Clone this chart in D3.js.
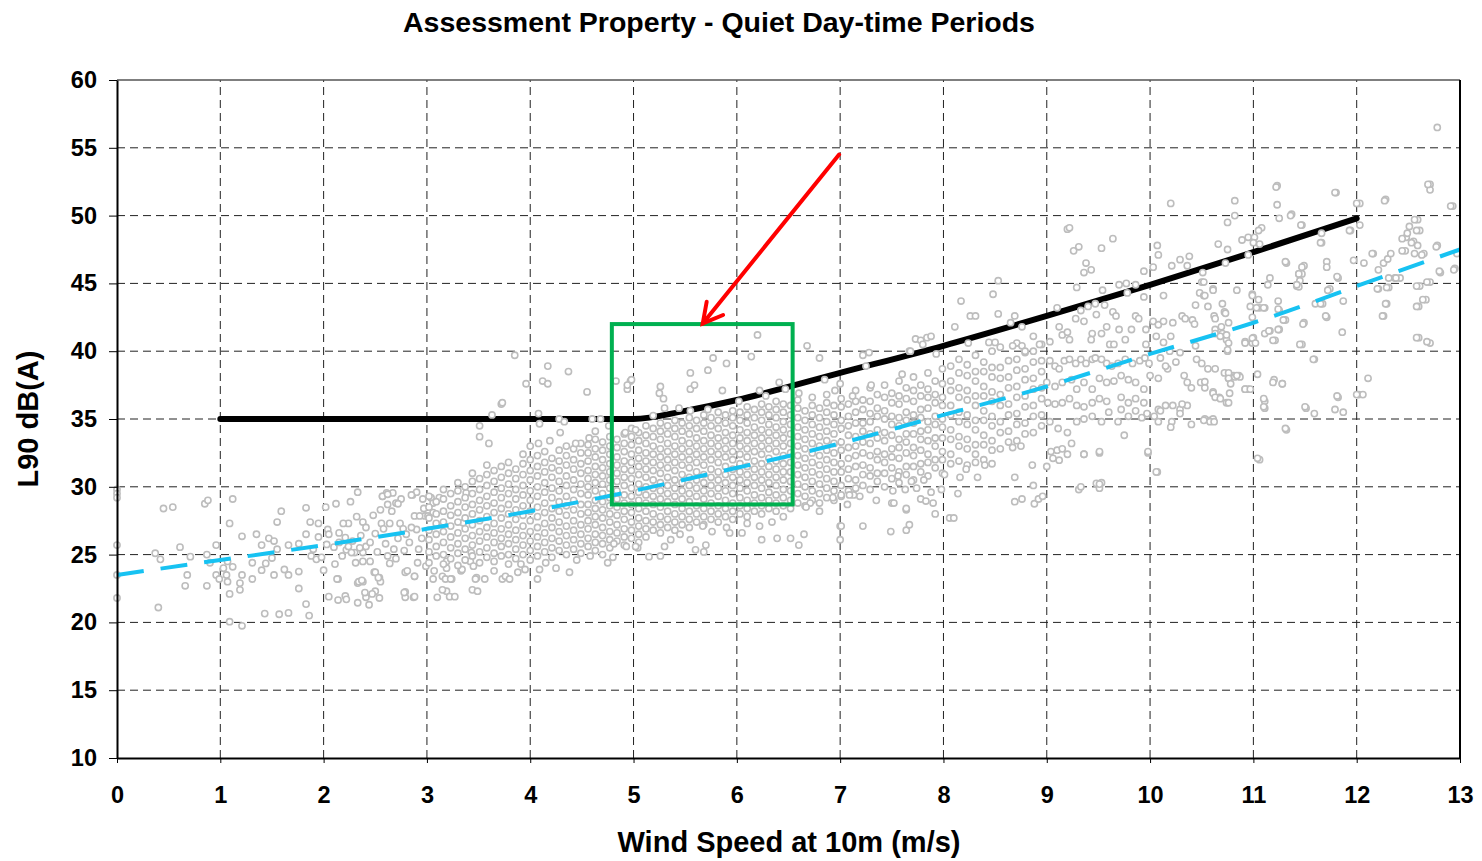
<!DOCTYPE html>
<html>
<head>
<meta charset="utf-8">
<script src="https://cdn.jsdelivr.net/npm/d3@7"></script>
<style>
  body { margin: 0; background: #fff; }
  text { font-family: "Liberation Sans", Arial, sans-serif; font-weight: bold; fill: #000; }
</style>
</head>
<body>
<div id="chart"></div>
<script>
const WIDTH = 1482
const HEIGHT = 861
const margin = { top: 80, right: 22, bottom: 103, left: 117 }

const chartTitle = 'Assessment Property - Quiet Day-time Periods'
const xTitle = 'Wind Speed at 10m (m/s)'
const yTitle = 'L90 dB(A)'

const speedTicks = [0, 1, 2, 3, 4, 5, 6, 7, 8, 9, 10, 11, 12, 13]
const levelTicks = [10, 15, 20, 25, 30, 35, 40, 45, 50, 55, 60]

// Noise limit curve (black)
const limitSpeeds = [1, 2, 3, 4, 5, 5.5, 6, 7, 8, 9, 10, 11, 12]
const limitLevels = [35, 35, 35, 35, 35, 35.6, 36.4, 38.4, 40.4, 42.6, 44.9, 47.3, 49.8]

// Background regression curve (cyan dashed)
const fitSpeeds = [0, 1, 2, 3, 4, 5, 6, 7, 8, 9, 10, 11, 12, 13]
const fitLevels = [23.5, 24.6, 25.7, 26.9, 28.2, 29.7, 31.4, 33.2, 35.3, 37.4, 39.8, 42.1, 44.8, 47.5]

// Highlight box [x0, x1, y0, y1] and arrow [from, to], in data units
const boxExtent = [4.79, 6.54, 28.7, 42.0]
const arrowFrom = [6.99, 54.5]
const arrowTo = [5.67, 42.05]

// Measured L90 points, low wind speeds
const calmPoints = [
  [0,29.8],[0,29.5],[0,29.2],[0,25.7],[0,23.5],[0,21.8],
  [0.37,25.1],[0.42,24.65],[0.40,21.1],[0.45,28.4],[0.54,28.5],[0.61,25.55],[0.66,22.7],[0.68,23.5],
  [0.71,24.85],[0.85,28.75],[0.88,29.0],[0.87,25.0],[0.87,22.7],[0.9,24.4],[0.96,25.7],[0.96,23.5],[0.99,23.2],
  [1.03,24.0],[1.07,24.5],[1.06,23.5],[1.07,23.0],[1.09,22.1],[1.09,20.05],[1.21,19.75],[1.09,27.3],[1.12,29.1],
  [1.12,24.1],[1.19,22.9],[1.19,22.4],[1.21,23.5],[1.21,26.35],[1.31,23.2],[1.31,24.4],[1.35,26.5],[1.40,25.7],
  [1.40,23.85],[1.44,24.35],[1.43,20.65],[1.57,20.6],[1.66,20.7],[1.47,26.2],[1.5,24.75],[1.52,26.0],[1.55,27.4],
  [1.59,28.2],[1.55,25.4],[1.52,23.5],[1.62,23.9],[1.66,23.5],[1.66,25.7],
  [1.76,22.5],[1.83,21.35],[1.86,20.5],[1.76,23.75],[1.76,25.8],[1.83,26.5],[1.83,28.45],[1.87,27.4],[1.95,27.3],
  [1.9,25.4],[1.88,24.9],[1.93,24.65],[1.95,26.3],[1.98,24.8],[2.0,23.85],[2.02,28.5],[2.03,25.75],[2.04,26.85],[2.05,26.5],
  [2.05,21.9],[2.14,21.65],[2.21,21.95],[2.22,21.7],[2.33,21.45],[2.41,21.85],[2.44,21.3],[2.5,22.3],[2.54,21.8],
  [2.79,22.25],[2.79,21.85],[2.87,21.85],[3.1,21.85],[3.19,22.3],[3.22,21.9],[3.27,21.9],[3.44,22.4],[3.49,22.3],
  [2.14,23.2],[2.38,23.0],[2.33,22.9],[2.49,23.7],[2.54,23.3],[2.55,23.0],[2.45,24.5],[2.38,24.5],[2.31,24.4],
  [2.32,27.8],[2.38,27.4],[2.41,27.0],[2.26,28.9],[2.33,29.6],[2.12,28.75],[2.24,27.3],[2.21,26.25],[2.19,27.3],
  [2.15,26.6],[2.22,25.35],[2.3,25.15],[2.11,24.3],[2.1,25.55],[2.24,25.6],[2.27,25.15],[2.41,25.6],[2.38,25.15],
  [2.36,26.4],[2.5,26.55],[2.56,27.3],[2.58,26.9],[2.64,27.3],[2.57,29.3],[2.61,29.55],[2.67,29.55],[2.62,28.7],
  [2.7,28.8],[2.64,24.35],[2.74,27.3],[2.77,26.9],[2.86,29.4],[2.78,25.3],[2.83,25.9],[2.9,26.85],[2.96,29.1],
  [2.98,27.85],[3.04,29.2],[3.06,28.8],[3.12,29.2],[3.06,28.1],[3.01,27.85],[2.88,27.85],[2.93,27.85],[2.79,23.7],
  [2.88,23.4],[2.91,24.4],[2.99,24.15],[3.06,23.2],[3.07,23.8],[3.15,23.4],[3.19,24.5],[3.19,24.0],[3.24,23.2],
  [3.33,23.8],[3.42,24.5],[3.45,24.15],[3.48,23.3],[3.43,25.15],[3.35,27.35],[3.38,29.55],
  [2.15,25.9],[2.28,26.0],[2.45,25.9],[2.52,25.2],[2.6,25.8],[2.68,25.4],[2.72,26.2],[2.8,26.5],[2.85,27.0],
  [2.95,26.2],[2.62,24.9],[2.7,24.7],[2.48,27.9],[2.18,24.9],[2.35,25.5],[2.92,25.4],[2.97,28.4],[2.55,28.3],
  [2.66,28.2],[2.75,29.1],[2.9,29.6],[2.13,23.2],[2.34,23.0],[2.37,23.1],[2.5,23.7],[2.53,23.3],[2.4,22.2],
  [2.47,22.1],[2.78,22.2],[2.88,21.9],[2.81,23.8],[2.88,23.4],[3.18,23.2],[3.15,22.4],[3.23,23.2],[3.34,23.9],
  [3.47,23.2],[2.57,29.3],[2.72,28.75],[2.85,29.4],[2.62,29.45]
]

// Main cloud, one column per wind speed: [speed, level, level, ...]
const denseColumns = [
  [3.02,24.4,25.2,26.1,26.8,27.7,28.5,29.3],
  [3.09,24.9,25.6,26.5,27.3,28.0,28.9],
  [3.16,24.3,25.0,25.9,26.7,27.4,28.2,29.1,29.8],
  [3.23,24.7,25.5,26.3,27.1,27.9,28.6,29.5],
  [3.30,24.2,25.1,25.8,26.6,27.4,28.1,28.9,29.7,30.3],
  [3.37,24.6,25.4,26.2,26.9,27.7,28.5,29.2,30.0],
  [3.44,24.9,25.7,26.4,27.2,28.0,28.7,29.5,30.4,31.0],
  [3.51,24.4,25.2,26.0,26.7,27.5,28.3,29.0,29.8,30.6],
  [3.58,24.8,25.5,26.3,27.0,27.8,28.6,29.3,30.1,30.9,31.6],
  [3.65,24.5,25.1,25.9,26.6,27.3,28.1,28.8,29.6,30.4,31.2],
  [3.72,24.9,25.6,26.2,26.9,27.7,28.4,29.2,29.9,30.7,31.5],
  [3.79,24.3,25.0,25.8,26.5,27.2,28.0,28.7,29.5,30.2,31.0,31.8],
  [3.86,24.7,25.4,26.1,26.8,27.6,28.3,29.1,29.8,30.6,31.3],
  [3.93,25.0,25.7,26.4,27.1,27.9,28.6,29.4,30.1,30.9,31.7,32.4],
  [4.00,24.6,25.3,26.0,26.7,27.5,28.2,29.0,29.7,30.5,31.2,32.0],
  [4.07,24.9,25.6,26.3,27.0,27.8,28.5,29.3,30.0,30.8,31.5,32.3],
  [4.14,25.2,25.9,26.6,27.3,28.1,28.8,29.6,30.3,31.1,31.8,32.6],
  [4.21,24.8,25.5,26.2,27.0,27.7,28.4,29.2,29.9,30.7,31.4,32.1],
  [4.28,25.3,26.0,26.7,27.4,28.2,28.9,29.7,30.4,31.2,31.9,32.7],
  [4.35,25.0,25.7,26.4,27.1,27.9,28.6,29.3,30.1,30.8,31.6,32.3,33.0],
  [4.42,25.4,26.1,26.8,27.5,28.3,29.0,29.8,30.5,31.3,32.0,32.8],
  [4.49,25.1,25.8,26.5,27.2,28.0,28.7,29.5,30.2,31.0,31.7,32.5,33.2],
  [4.56,25.6,26.2,26.9,27.5,28.1,28.7,29.4,30.0,30.6,31.2,31.9,32.5,33.1],
  [4.63,25.3,25.9,26.5,27.2,27.8,28.4,29.0,29.7,30.3,30.9,31.5,32.2,32.8,33.5],
  [4.70,25.8,26.4,27.0,27.7,28.3,28.9,29.5,30.2,30.8,31.4,32.0,32.7,33.3],
  [4.77,25.5,26.1,26.7,27.4,28.0,28.6,29.2,29.9,30.5,31.1,31.7,32.4,33.0,33.7],
  [4.84,26.0,26.6,27.2,27.9,28.5,29.1,29.7,30.4,31.0,31.6,32.2,32.9,33.5],
  [4.91,25.7,26.3,26.9,27.6,28.2,28.8,29.4,30.1,30.7,31.3,31.9,32.6,33.2,33.9],
  [4.98,26.2,26.8,27.4,28.1,28.7,29.3,29.9,30.6,31.2,31.8,32.4,33.1,33.7,34.3],
  [5.05,26.5,27.1,27.7,28.4,29.0,29.6,30.2,30.9,31.5,32.1,32.7,33.4,34.0],
  [5.12,26.3,26.9,27.5,28.2,28.8,29.4,30.0,30.7,31.3,31.9,32.5,33.2,33.8,34.5],
  [5.19,26.8,27.4,28.0,28.7,29.3,29.9,30.5,31.2,31.8,32.4,33.0,33.7,34.3],
  [5.26,26.6,27.2,27.8,28.5,29.1,29.7,30.3,31.0,31.6,32.2,32.8,33.5,34.1,34.7],
  [5.33,27.0,27.6,28.2,28.9,29.5,30.1,30.7,31.4,32.0,32.6,33.2,33.9,34.5],
  [5.40,26.8,27.4,28.0,28.7,29.3,29.9,30.5,31.2,31.8,32.4,33.0,33.7,34.3,34.9],
  [5.47,27.2,27.8,28.4,29.1,29.7,30.3,30.9,31.6,32.2,32.8,33.4,34.1,34.7],
  [5.54,27.0,27.6,28.2,28.9,29.5,30.1,30.7,31.4,32.0,32.6,33.2,33.9,34.5,35.1],
  [5.61,27.4,28.0,28.6,29.3,29.9,30.5,31.1,31.8,32.4,33.0,33.6,34.3,34.9],
  [5.68,27.2,27.8,28.4,29.1,29.7,30.3,30.9,31.6,32.2,32.8,33.4,34.1,34.7,35.3],
  [5.75,27.6,28.2,28.8,29.5,30.1,30.7,31.3,32.0,32.6,33.2,33.8,34.5,35.1],
  [5.82,27.4,28.0,28.6,29.3,29.9,30.5,31.1,31.8,32.4,33.0,33.6,34.3,34.9,35.5],
  [5.89,27.8,28.4,29.0,29.7,30.3,30.9,31.5,32.2,32.8,33.4,34.0,34.7,35.3],
  [5.96,27.6,28.2,28.8,29.5,30.1,30.7,31.3,32.0,32.6,33.2,33.8,34.5,35.1,35.6],
  [6.03,28.0,28.6,29.2,29.9,30.5,31.1,31.7,32.4,33.0,33.6,34.2,34.9,35.5],
  [6.10,27.8,28.4,29.0,29.7,30.3,30.9,31.5,32.2,32.8,33.4,34.0,34.7,35.3,35.9],
  [6.17,28.2,28.8,29.4,30.1,30.7,31.3,31.9,32.6,33.2,33.8,34.4,35.1,35.7],
  [6.24,28.0,28.6,29.2,29.9,30.5,31.1,31.7,32.4,33.0,33.6,34.2,34.9,35.5,36.1],
  [6.31,28.4,29.0,29.6,30.3,30.9,31.5,32.1,32.8,33.4,34.0,34.6,35.3,35.9],
  [6.38,28.2,28.8,29.4,30.1,30.7,31.3,31.9,32.6,33.2,33.8,34.4,35.1,35.7,36.3],
  [6.45,28.6,29.2,29.8,30.5,31.1,31.7,32.3,33.0,33.6,34.2,34.8,35.5,36.1],
  [6.52,28.4,29.0,29.7,30.4,31.1,31.8,32.5,33.2,33.9,34.6,35.3,36.0],
  [6.59,28.8,29.5,30.2,30.9,31.6,32.3,33.0,33.7,34.4,35.1,35.8,36.4],
  [6.66,28.6,29.3,30.0,30.7,31.4,32.1,32.8,33.5,34.2,34.9,35.6],
  [6.73,29.0,29.7,30.4,31.1,31.8,32.5,33.2,33.9,34.6,35.3,36.0,36.6],
  [6.80,28.8,29.5,30.2,30.9,31.6,32.3,33.0,33.7,34.4,35.1,35.8],
  [6.87,29.2,29.9,30.6,31.3,32.0,32.7,33.4,34.1,34.8,35.5,36.2,36.8],
  [6.94,29.0,29.7,30.4,31.1,31.8,32.5,33.2,33.9,34.6,35.3,36.0],
  [7.01,29.3,30.1,31.1,31.7,32.7,33.3,34.3,34.9,35.9,36.5],
  [7.08,29.7,30.6,31.3,32.1,32.9,33.8,34.5,35.2,36.1],
  [7.15,29.9,30.5,31.5,32.3,33.0,33.7,34.7,35.5,36.3,37.1],
  [7.22,30.1,30.9,31.6,32.5,33.3,34.1,34.7,35.7,36.4],
  [7.29,29.8,30.8,31.4,32.3,33.2,33.9,34.8,35.4,36.3,37.3],
  [7.36,30.4,31.0,32.0,32.6,33.6,34.2,35.2,35.8,36.8],
  [7.43,30.0,31.0,31.8,32.4,33.4,34.0,35.0,35.6,36.6,37.5],
  [7.50,30.6,31.4,32.2,32.8,33.8,34.6,35.2,36.2,36.9],
  [7.57,30.3,31.1,32.1,32.9,33.5,34.5,35.1,36.1,36.7,37.8],
  [7.64,30.9,31.5,32.5,33.3,33.9,34.9,35.5,36.5,37.3],
  [7.71,30.5,31.5,32.3,32.9,33.9,34.7,35.3,36.3,37.1,38.1],
  [7.78,31.1,31.7,32.7,33.5,34.1,35.1,35.7,36.7,37.5],
  [7.85,30.8,31.8,32.4,33.4,34.2,34.8,35.8,36.6,37.2,38.4],
  [7.92,31.4,32.0,33.0,33.6,34.6,35.2,36.2,36.8,37.8],
  [7.99,31.0,32.0,32.6,33.6,34.4,35.0,36.0,36.6,37.6,38.7],
  [8.07,31.7,32.4,33.5,34.2,35.3,36.0,37.1,37.8,38.9],
  [8.15,31.9,33.0,33.7,34.8,35.5,36.6,37.3,38.4,39.4],
  [8.23,31.6,32.8,33.5,34.6,35.3,36.4,37.1,38.2,39.0],
  [8.31,32.4,33.1,34.2,34.9,36.0,36.7,37.8,38.5,39.7],
  [8.39,32.0,33.1,33.8,34.9,35.6,36.7,37.4,38.5,39.2],
  [8.47,32.7,33.4,34.5,35.2,36.3,37.0,38.1,38.8,40.0],
  [8.55,32.8,34.0,34.8,36.0,36.8,38.0,38.8,40.3],
  [8.63,33.3,34.1,35.3,36.1,37.3,38.1,39.3],
  [8.71,33.4,34.6,35.4,36.6,37.4,38.6,39.4,40.6],
  [8.79,33.9,34.7,35.9,36.7,37.9,38.7,39.9],
  [8.87,34.0,35.2,36.0,37.2,38.0,39.2,40.0,41.1],
  [8.95,34.5,35.3,36.5,37.3,38.5,39.3,40.5]
]

// Scattered points around the main cloud, 3.5 to 9 m/s
const fringePoints = [
  [3.96,37.6],[4.12,37.8],[4.17,37.6],[4.55,37.0],[4.94,37.2],[4.97,37.8],[3.72,36.1],[3.63,35.3],[4.08,35.4],
  [4.09,34.65],[4.28,35.0],[4.33,34.8],[4.6,35.0],[4.68,35.0],[3.51,34.5],[3.51,33.7],[3.6,33.2],[4.29,34.0],
  [4.63,34.1],[4.76,34.5],[4.92,34.0],[5.02,34.2],[4.19,33.4],[4.44,33.2],[4.57,33.6],[4.0,33.0],[4.08,33.2],
  [3.85,39.7],[4.17,38.9],[4.37,38.5],[3.73,36.2],[4.83,37.8],[4.94,37.5],[4.98,37.9],
  [6.2,41.2],[6.14,39.6],[5.77,39.5],[5.9,39.1],[5.72,38.6],[5.55,38.4],[5.86,37.1],[5.55,37.2],[5.59,37.5],
  [5.26,37.4],[5.25,36.9],[5.29,36.5],[5.3,35.8],[5.44,35.8],[5.55,35.6],[5.72,35.7],[5.19,35.25],[6.22,37.1],
  [6.28,36.7],[6.41,37.7],[6.47,37.2],[6.68,40.4],[6.8,39.5],[7.28,39.9],[7.22,39.7],[7.67,40.0],[6.85,37.9],
  [7.0,37.6],[7.25,38.9],[7.12,36.7],[7.3,37.5],[7.6,38.3],[7.73,40.9],[6.02,36.3],[6.6,36.9],[6.95,37.1],
  [7.35,29.0],[7.5,28.8],[7.64,28.3],[7.64,26.8],[7.22,27.1],[7.0,26.1],[7.0,27.1],[6.65,26.5],[6.6,25.7],
  [6.52,26.2],[6.39,26.2],[6.24,26.1],[6.34,27.4],[6.22,27.1],[6.05,26.6],[5.93,26.6],[5.7,25.7],[5.6,25.35],
  [5.68,25.2],[5.76,26.7],[5.67,27.1],[5.55,26.1],[5.26,24.9],[5.15,24.85],[4.93,25.6],[4.81,25.8],[5.04,25.5],
  [5.36,26.1],[5.3,25.6],[6.1,27.3],[6.45,27.8],[6.8,28.2],[5.9,27.0],[5.45,26.5],[5.05,25.9],[4.7,25.0],
  [3.56,23.2],[3.73,23.2],[3.76,23.4],[3.8,23.2],[3.88,23.7],[3.91,24.3],[4.07,23.2],[4.09,23.9],[4.25,24.0],
  [4.38,23.7],[4.75,24.4],[4.8,24.8],[5.02,25.6],[4.15,24.4],[4.45,24.6],[4.58,24.9],[3.95,23.9],[3.65,23.8],
  [8.69,28.9],[8.76,29.1],[8.88,28.75],[8.92,29.1],[8.96,29.3],[8.67,32.9],[8.75,33.0],[8.4,31.6],[8.47,31.7],
  [8.31,31.8],[8.22,31.3],[8.16,30.7],[8.33,30.7],[8.01,30.9],[8.14,29.5],[8.06,27.7],[8.1,27.7],[7.92,28.0],
  [7.98,29.8],[7.78,29.1],[7.83,28.95],[7.9,28.8],[7.64,28.4],[7.67,27.2],[7.49,26.7],[7.01,27.1],[7.52,28.8],
  [7.07,28.7],[7.19,29.3],[7.13,29.4],[7.09,29.4],[7.01,29.4],[6.71,28.8],[6.67,28.5],[6.93,29.2],[7.51,29.7],
  [7.63,29.8],[7.74,29.9],[7.88,29.6],[7.56,30.8],[7.69,30.4],[7.81,30.5],[8.87,30.1],[8.69,30.7],[8.86,31.6],
  [7.68,40.0],[7.78,40.8],[7.84,41.0],[7.88,41.1],[7.8,40.5],[7.93,39.8],[8.17,43.7],[8.11,41.8],[8.26,42.6],
  [8.31,42.6],[8.24,40.6],[8.48,44.2],[8.53,45.2],[8.53,42.75],[8.44,40.65],[8.5,40.65],[8.65,42.1],[8.69,42.6],
  [8.67,40.4],[8.76,41.8],[8.76,40.4],[8.79,40.0],[8.93,40.5]
]

// Scattered points, higher wind speeds
const windyPoints = [
  [9.0,31.5],[9.12,31.96],[9.1,32.7],[9.2,32.4],[9.36,32.4],[9.51,32.5],[9.48,30.25],[9.53,30.3],[9.51,29.9],
  [9.31,29.8],[9.98,32.5],[10.07,31.1],[11.06,32.0],
  [9.03,40.7],[9.1,43.2],[9.12,41.8],[9.15,41.2],[9.2,41.4],[9.22,40.85],[9.28,42.4],[9.33,43.0],[9.36,42.2],
  [9.4,43.3],[9.47,43.5],[9.48,42.7],[9.56,43.4],[9.29,44.7],[9.54,44.5],[9.64,42.9],[9.67,42.6],[9.58,41.8],
  [9.44,41.3],[9.43,40.85],[9.53,41.3],[9.61,40.5],[9.65,40.5],[9.7,41.6],[9.76,40.85],[9.7,44.9],[9.77,45.0],
  [9.86,44.9],[9.78,44.3],[9.94,44.0],[9.86,42.6],[9.89,42.4],[9.82,41.6],[9.96,41.6],[10.03,42.2],[10.08,41.95],
  [10.13,42.2],[10.22,42.1],[10.2,41.1],[10.13,40.65],[10.06,41.1],[9.96,40.5],[10.13,44.1],[10.31,42.6],
  [10.34,42.4],[10.41,42.3],[10.43,42.0],[10.44,40.4],[10.29,39.9],[10.19,40.0],[10.44,43.4],[10.48,44.3],
  [10.52,44.1],[10.5,45.1],[10.61,44.6],[10.62,42.6],[10.69,41.8],[10.72,42.9],[10.7,41.3],[10.74,40.85],
  [10.75,40.0],[10.92,40.7],[10.99,40.6],[11.0,41.0],
  [9.2,49.0],[9.22,49.1],[9.26,47.4],[9.31,47.7],[9.53,47.6],[9.64,48.3],[9.38,46.5],[9.43,46.0],[9.36,45.8],
  [10.2,50.9],[10.07,47.8],[10.08,47.1],[10.03,46.2],[9.94,45.9],[10.21,46.3],[10.29,46.75],[10.36,46.3],[10.38,47.0],
  [9.03,39.3],[9.08,38.9],[9.12,38.7],[9.17,39.3],[9.22,39.4],[9.28,39.1],[9.33,39.4],[9.38,39.1],[9.44,39.4],
  [9.47,39.5],[9.53,39.4],[9.58,39.1],[9.63,38.9],[9.69,39.1],[9.76,39.4],[9.83,39.1],[9.9,39.3],[9.95,39.5],
  [9.99,39.1],[9.0,37.7],[9.08,37.4],[9.15,37.7],[9.24,37.9],[9.29,37.2],[9.36,37.7],[9.44,37.2],[9.51,38.0],
  [9.58,37.7],[9.65,37.8],[9.72,38.2],[9.79,37.9],[9.86,37.7],[9.94,37.2],[9.72,36.6],[9.79,36.2],[9.86,36.5],
  [9.94,36.2],[9.58,36.3],[9.51,36.5],[9.44,36.2],[9.36,35.9],[9.29,36.0],[9.22,36.5],[9.15,36.2],[9.08,36.1],
  [9.01,36.2],[9.03,34.8],[9.11,34.3],[9.2,34.0],[9.29,34.8],[9.36,35.0],[9.44,35.2],[9.53,34.8],[9.6,35.5],
  [9.69,34.8],[9.72,35.7],[9.79,35.2],[9.86,35.6],[9.92,35.1],[9.97,35.4],[10.04,35.2],[10.08,34.8],[10.08,35.7],
  [10.15,36.0],[10.22,36.0],[10.29,35.7],[10.36,36.0],[9.04,32.6],[9.06,32.1],[9.15,32.8],[9.24,33.2],
  [9.36,32.4],[9.51,32.6],[9.75,33.8],[9.98,32.6],[10.06,31.1],[9.51,30.2],[9.33,30.0],
  [10.08,38.0],[10.17,38.7],[10.15,38.9],[10.33,38.2],[10.36,37.7],[10.4,37.3],[10.49,37.7],[10.53,37.3],
  [10.56,38.7],[10.63,38.7],[10.72,38.4],[10.76,38.0],[10.81,38.2],[10.86,38.2],[10.95,37.2],[10.92,37.2],
  [10.61,37.0],[10.67,36.6],[10.74,36.2],[10.53,35.0],[10.58,34.9],[10.61,35.0],[10.4,34.6],[10.21,34.8],
  [10.2,34.4],[10.29,35.4],[10.1,35.6],[10.31,36.1],[10.1,39.5],[10.25,39.2],[10.45,39.4],[10.0,38.2],
  [12.78,56.5],[12.71,52.3],[12.71,51.9],[12.93,50.7],[12.28,51.2],[12.03,50.9],[11.8,51.7],[11.23,52.2],
  [11.23,50.8],[11.25,49.8],[11.37,50.1],[11.47,49.3],[10.82,51.1],[10.82,50.0],[10.75,49.5],[10.89,48.2],
  [10.95,48.4],[11.01,48.4],[11.08,49.1],[11.05,48.9],[11.0,48.0],[11.06,47.9],[10.66,47.9],[10.75,47.5],
  [10.95,47.1],[10.73,46.5],[10.51,45.8],[10.52,45.1],[11.32,46.5],[11.49,46.3],[11.44,45.7],[11.47,45.7],
  [11.16,45.4],[11.14,44.9],[11.42,44.8],[11.44,44.75],[11.66,48.7],[11.66,48.0],[11.94,48.9],[12.03,49.3],
  [11.71,46.6],[11.71,46.2],[11.82,45.4],[11.97,46.7],[12.07,46.5],[12.16,47.2],[12.21,46.0],[12.26,46.5],
  [12.3,46.8],[12.33,47.2],[12.47,47.4],[12.48,48.4],[12.49,48.7],[12.51,49.2],[12.55,48.1],[12.59,47.8],
  [12.56,47.2],[12.65,47.2],[12.59,49.7],[12.61,48.9],[12.78,47.8],[12.97,47.2],[12.81,45.8],[12.95,46.1],
  [12.31,45.4],[12.31,44.7],[12.37,45.4],[12.42,45.4],[12.21,44.6],[12.29,43.5],[12.26,42.6],[12.61,44.8],
  [12.71,45.1],[12.6,43.3],[12.67,43.8],[12.6,41.0],[12.71,40.6],[11.87,43.7],[11.71,42.5],[11.6,43.5],
  [11.67,43.5],[11.74,44.6],[11.49,42.1],[11.47,40.5],[11.59,39.4],[12.11,38.0],[12.02,36.8],[12.06,36.8],
  [11.82,36.6],[11.79,35.7],[11.87,35.5],[11.51,35.8],[11.59,35.4],[11.32,34.2],[11.11,36.3],[11.11,35.8],
  [11.2,37.9],[11.28,37.6],[11.04,38.3],[10.92,37.2],[10.97,37.2],[10.76,38.4],[10.76,38.0],[10.78,37.6],
  [10.82,38.1],[10.87,38.1],[10.77,36.9],[10.76,36.2],[10.61,36.9],[10.63,36.6],[10.68,36.5],[10.52,34.9],
  [10.58,34.8],[10.62,34.8],[10.5,39.1],[10.53,37.75],[10.99,44.2],[11.05,43.8],[11.06,43.2],[11.11,43.2],
  [10.99,42.5],[10.99,40.95],[11.02,40.6],[10.92,40.6],[11.11,41.3],[11.16,41.5],[11.21,40.8],[11.25,41.6],
  [11.25,43.0],[11.31,42.3],[10.61,44.5],[10.53,44.1],[10.56,43.3],[10.7,43.5],[10.73,42.8],[10.63,42.4],
  [10.76,42.1],[10.63,41.6],[10.63,41.3],[10.68,41.1],[10.74,41.2],[10.76,40.6],[10.75,40.1],[10.84,44.5],
  [11.22,52.1],[11.36,50.0],[11.46,49.3],[11.65,48.0],[11.79,51.7],[12.0,50.9],[11.93,48.9],[12.27,51.1],
  [12.69,52.3],[12.91,50.7],[12.15,47.2],[12.44,47.4],[12.44,48.3],[12.56,49.7],[12.58,48.9],[12.53,48.0],
  [12.63,47.1],[12.77,47.7],[12.58,44.8],[12.68,45.1],[12.64,43.8],[12.58,43.3],[12.28,43.5],[12.25,42.6],
  [11.86,41.4],[12.58,41.0],[12.68,40.7],[12.8,45.9],[12.94,46.0],[12.2,44.6],[12.29,44.7],[12.38,45.4],
  [12.0,36.8],[11.81,36.7],[11.5,35.9],[11.31,34.3],[11.58,39.4],[11.45,40.5],[11.7,42.6],[11.65,43.5],
  [11.29,42.3],[11.24,43.7],[11.24,43.1],[11.15,41.5],[11.19,40.8],[11.24,41.6],[11.47,46.2],[11.44,45.7],
  [11.45,45.2],[11.42,44.9],[11.31,46.6],[11.48,42.0],[11.72,44.5],[11.81,45.5],[11.19,37.7],[11.28,37.6],
  [10.99,44.1],[10.97,43.3],[11.03,43.2],[11.1,43.2],[11.04,32.1],[11.1,36.5],[11.1,35.9],[10.84,38.2]
]

const points = [
  ...calmPoints,
  ...denseColumns.flatMap(([speed, ...levels]) => levels.map(level => [speed, level])),
  ...fringePoints,
  ...windyPoints
]

const svg = d3.select('#chart')
  .append('svg')
  .attr('width', WIDTH)
  .attr('height', HEIGHT)

const x = d3.scaleLinear().domain([0, 13]).range([margin.left, WIDTH - margin.right])
const y = d3.scaleLinear().domain([10, 60]).range([HEIGHT - margin.bottom, margin.top])

// Dashed grid
const grid = svg.append('g')
grid.selectAll('.vgrid')
  .data(speedTicks.slice(1, -1))
  .enter().append('line')
  .attr('x1', d => x(d)).attr('x2', d => x(d))
  .attr('y1', y(10)).attr('y2', y(60))
  .attr('stroke', '#222').attr('stroke-width', 1).attr('stroke-dasharray', '8,5')
grid.selectAll('.hgrid')
  .data(levelTicks.slice(1, -1))
  .enter().append('line')
  .attr('x1', x(0)).attr('x2', x(13))
  .attr('y1', d => y(d)).attr('y2', d => y(d))
  .attr('stroke', '#222').attr('stroke-width', 1).attr('stroke-dasharray', '8,5')

// Limit curve
const limitLine = d3.line()
  .x(d => x(d[0])).y(d => y(d[1]))
  .curve(d3.curveMonotoneX)
svg.append('path')
  .attr('d', limitLine(d3.zip(limitSpeeds, limitLevels)))
  .attr('fill', 'none')
  .attr('stroke', '#000')
  .attr('stroke-width', 6)
  .attr('stroke-linecap', 'round')

// Measurements
svg.append('g')
  .selectAll('circle')
  .data(points)
  .enter().append('circle')
  .attr('cx', d => x(d[0]))
  .attr('cy', d => y(d[1]))
  .attr('r', 3.1)
  .attr('fill', '#fff')
  .attr('stroke', '#bdbdbd')
  .attr('stroke-width', 1.6)

// Regression curve
const fitLine = d3.line()
  .x(d => x(d[0])).y(d => y(d[1]))
  .curve(d3.curveNatural)
svg.append('path')
  .attr('d', fitLine(d3.zip(fitSpeeds, fitLevels)))
  .attr('fill', 'none')
  .attr('stroke', '#17c2f2')
  .attr('stroke-width', 4)
  .attr('stroke-dasharray', '27,17')

// Highlight box
svg.append('rect')
  .attr('x', x(boxExtent[0]))
  .attr('y', y(boxExtent[3]))
  .attr('width', x(boxExtent[1]) - x(boxExtent[0]))
  .attr('height', y(boxExtent[2]) - y(boxExtent[3]))
  .attr('fill', 'none')
  .attr('stroke', '#00b050')
  .attr('stroke-width', 4)

// Arrow
const ax0 = x(arrowFrom[0]), ay0 = y(arrowFrom[1])
const ax1 = x(arrowTo[0]), ay1 = y(arrowTo[1])
const angle = Math.atan2(ay1 - ay0, ax1 - ax0)
const headLen = 22
const arrow = svg.append('g')
  .attr('stroke', '#ff0000')
  .attr('stroke-width', 4)
  .attr('fill', 'none')
  .attr('stroke-linecap', 'round')
arrow.append('line')
  .attr('x1', ax0).attr('y1', ay0)
  .attr('x2', ax1).attr('y2', ay1)
arrow.append('path')
  .attr('stroke-linejoin', 'miter')
  .attr('d', d3.line()([
    [ax1 - headLen * Math.cos(angle - 0.5), ay1 - headLen * Math.sin(angle - 0.5)],
    [ax1, ay1],
    [ax1 - headLen * Math.cos(angle + 0.5), ay1 - headLen * Math.sin(angle + 0.5)]
  ]))

// Frame
svg.append('line')
  .attr('x1', x(0)).attr('x2', x(13)).attr('y1', y(60)).attr('y2', y(60))
  .attr('stroke', '#555').attr('stroke-width', 1.5)
svg.append('line')
  .attr('x1', x(13)).attr('x2', x(13)).attr('y1', y(60)).attr('y2', y(10))
  .attr('stroke', '#000').attr('stroke-width', 2)

// Axes
const yAxis = svg.append('g')
  .attr('transform', `translate(${x(0)},0)`)
  .call(d3.axisLeft(y).tickValues(levelTicks).tickSize(8).tickPadding(12).tickSizeOuter(0))
const xAxis = svg.append('g')
  .attr('transform', `translate(0,${y(10)})`)
  .call(d3.axisBottom(x).tickValues(speedTicks).tickSize(5).tickPadding(23).tickSizeOuter(0))

for (const axis of [xAxis, yAxis]) {
  axis.select('.domain').attr('stroke', '#000').attr('stroke-width', 2)
  axis.selectAll('.tick line').attr('stroke', '#000').attr('stroke-width', 1)
  axis.selectAll('.tick text')
    .attr('font-family', '"Liberation Sans", Arial, sans-serif')
    .attr('font-weight', 'bold')
    .attr('font-size', 23.5)
    .attr('fill', '#000')
}

// Titles
svg.append('text')
  .attr('x', 719).attr('y', 32)
  .attr('text-anchor', 'middle')
  .attr('font-size', 28.5)
  .text(chartTitle)

svg.append('text')
  .attr('x', 789).attr('y', 852)
  .attr('text-anchor', 'middle')
  .attr('font-size', 29)
  .text(xTitle)

svg.append('text')
  .attr('transform', `translate(38,${y(35)}) rotate(-90)`)
  .attr('text-anchor', 'middle')
  .attr('font-size', 29)
  .text(yTitle)
</script>
</body>
</html>
